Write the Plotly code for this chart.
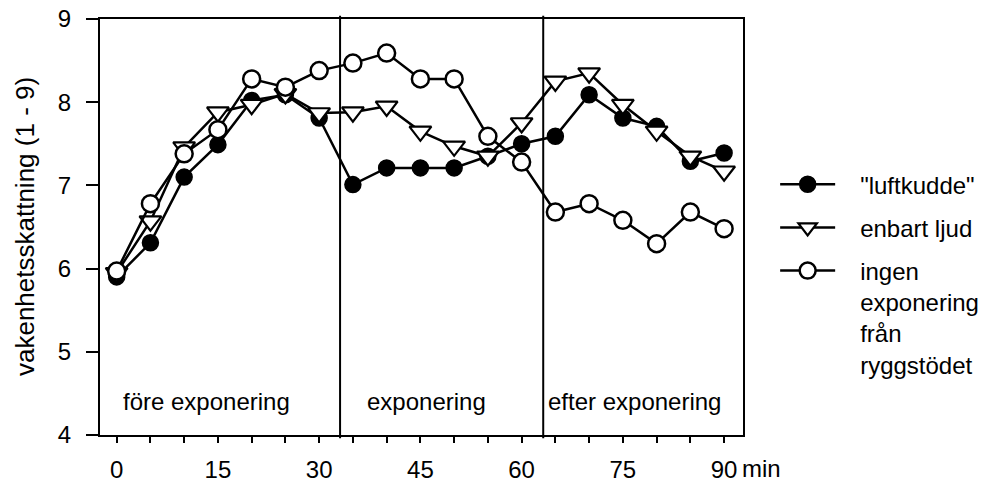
import plotly.graph_objects as go

minutes = [0, 5, 10, 15, 20, 25, 30, 35, 40, 45, 50, 55, 60, 65, 70, 75, 80, 85, 90]
luftkudde = [5.90, 6.31, 7.10, 7.49, 8.02, 8.09, 7.81, 7.01, 7.21, 7.21, 7.21, 7.35, 7.50, 7.59, 8.09, 7.81, 7.71, 7.29, 7.39]
enbart_ljud = [5.95, 6.57, 7.46, 7.88, 7.97, 8.10, 7.87, 7.88, 7.95, 7.65, 7.47, 7.35, 7.75, 8.25, 8.35, 7.97, 7.65, 7.35, 7.17]
ingen_exponering = [5.97, 6.78, 7.38, 7.67, 8.28, 8.18, 8.38, 8.47, 8.59, 8.28, 8.28, 7.59, 7.28, 6.68, 6.78, 6.58, 6.30, 6.68, 6.48]

series_names = ['"luftkudde"', 'enbart ljud', 'ingen<br>exponering<br>från<br>ryggstödet']
x_tickvals = [0, 5, 10, 15, 20, 25, 30, 35, 40, 45, 50, 55, 60, 65, 70, 75, 80, 85, 90]
x_ticktext = ['0', '', '', '15', '', '', '30', '', '', '45', '', '', '60', '', '', '75', '', '', '90']
y_tickvals = [4, 5, 6, 7, 8, 9]
phase_bounds = [33.1, 63.2]
phase_labels = ['före exponering', 'exponering', 'efter exponering']
phase_label_x = [0.6, 36.8, 63.6]

FONT = "Liberation Sans"
FS = 24
PAD = '\u00a0\u00a0\u00a0'


def legend_name(s):
    return '<br>'.join(PAD + part for part in s.split('<br>'))


fig = go.Figure()
fig.add_trace(go.Scatter(
    x=minutes, y=luftkudde, name=legend_name(series_names[0]), mode='lines+markers', legendgroup='a',
    line=dict(color='black', width=2.5),
    marker=dict(symbol='circle', size=16, color='black', line=dict(color='black', width=1.5)),
))
fig.add_trace(go.Scatter(
    x=minutes, y=enbart_ljud, name=legend_name(series_names[1]), mode='lines+markers', legendgroup='b',
    line=dict(color='black', width=2.5),
    marker=dict(symbol='triangle-down', size=19, color='white', line=dict(color='black', width=2.2)),
))
fig.add_trace(go.Scatter(
    x=minutes, y=ingen_exponering, name=legend_name(series_names[2]), mode='lines+markers', legendgroup='c',
    line=dict(color='black', width=2.5),
    marker=dict(symbol='circle', size=17, color='white', line=dict(color='black', width=2.5)),
))

for b in phase_bounds:
    fig.add_shape(type='line', xref='x', yref='paper', x0=b, x1=b, y0=-0.008, y1=1.008,
                  line=dict(color='black', width=2))

for lbl, lx in zip(phase_labels, phase_label_x):
    fig.add_annotation(x=lx, y=4.40, xref='x', yref='y', text=lbl, showarrow=False,
                       xanchor='left', yanchor='middle', font=dict(family=FONT, size=FS, color='black'))

fig.add_annotation(x=90, y=-0.08, xref='x', yref='paper', text='min', showarrow=False,
                   xanchor='left', yanchor='middle', xshift=16,
                   font=dict(family=FONT, size=FS, color='black'))

fig.add_annotation(x=-0.1166, y=0.5, xref='paper', yref='paper', text='vakenhetsskattning (1 - 9)',
                   textangle=-90, showarrow=False, xanchor='center', yanchor='middle',
                   font=dict(family=FONT, size=26, color='black'))

fig.update_layout(
    width=990, height=486,
    margin=dict(l=100, r=247, t=19, b=51, autoexpand=False),
    paper_bgcolor='white', plot_bgcolor='white',
    font=dict(family=FONT, size=FS, color='black'),
    showlegend=True,
    legend=dict(x=1.05, y=0.656, xanchor='left', yanchor='top', itemwidth=55,
                valign='top', bgcolor='rgba(0,0,0,0)', font=dict(family=FONT, size=FS, color='black'),
                tracegroupgap=9),
)
fig.update_xaxes(range=[-2.47, 92.8], tickmode='array', tickvals=x_tickvals, ticktext=x_ticktext,
                 ticks='outside', ticklen=6, tickwidth=2, tickcolor='black',
                 showline=True, linecolor='black', linewidth=2, mirror=True,
                 showgrid=False, zeroline=False, automargin=False, ticklabelstandoff=6)
fig.update_yaxes(range=[4, 9], tickmode='array', tickvals=y_tickvals,
                 ticks='outside', ticklen=12, tickwidth=2, tickcolor='black',
                 showline=True, linecolor='black', linewidth=2, mirror=True,
                 showgrid=False, zeroline=False, automargin=False, ticklabelstandoff=10)

fig.write_html("out.html")
